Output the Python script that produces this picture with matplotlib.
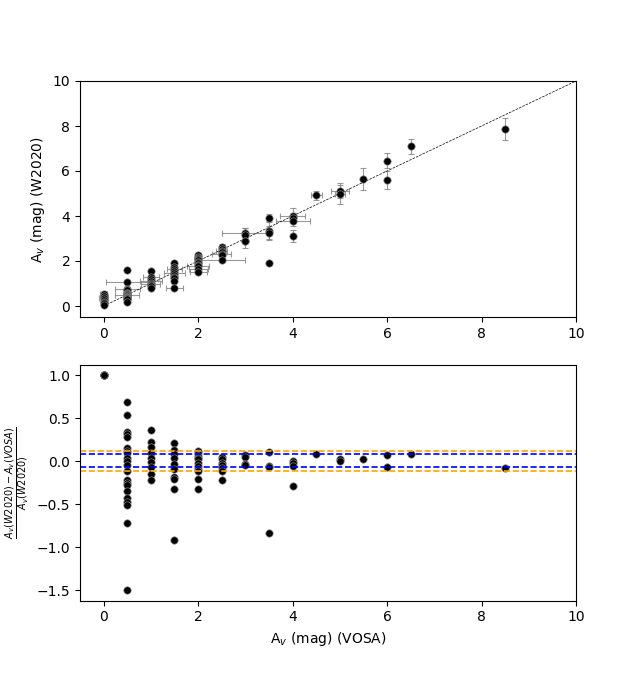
import numpy as np
import matplotlib.pyplot as plt

# A_v from VOSA (x) and from W2020 (y), with their errors
av_vosa = np.array(
    [0.0] * 7 + [0.5] * 21 + [1.0] * 9 + [1.5] * 10 + [2.0] * 11 + [2.5] * 7
    + [3.0] * 4 + [3.5] * 4 + [4.0] * 4 + [4.5] + [5.0] * 2 + [5.5] + [6.0] * 2
    + [6.5] + [8.5]
)
av_w2020 = np.array([
    0.55, 0.45, 0.35, 0.28, 0.20, 0.12, 0.05,
    1.59, 1.07, 0.76, 0.73, 0.70, 0.59, 0.57, 0.55, 0.52, 0.50, 0.48,
    0.45, 0.41, 0.40, 0.39, 0.37, 0.35, 0.34, 0.33, 0.29, 0.20,
    1.56, 1.29, 1.20, 1.11, 1.04, 0.99, 0.94, 0.87, 0.82,
    1.89, 1.72, 1.64, 1.56, 1.46, 1.38, 1.27, 1.24, 1.13, 0.78,
    2.27, 2.20, 2.14, 2.08, 2.04, 1.96, 1.89, 1.84, 1.79, 1.66, 1.51,
    2.63, 2.55, 2.45, 2.38, 2.32, 2.25, 2.05,
    3.25, 3.15, 2.90, 2.88,
    3.93, 3.33, 3.26, 1.91,
    4.02, 3.92, 3.77, 3.11,
    4.93,
    5.10, 5.00,
    5.65,
    6.45, 5.60,
    7.10,
    7.86,
])
xerr = np.array([
    0.08, 0.0, 0.10, 0.0, 0.05, 0.0, 0.0,
    0.0, 0.46, 0.26, 0.0, 0.0, 0.0, 0.0, 0.0, 0.0, 0.0, 0.25,
    0.0, 0.0, 0.0, 0.0, 0.0, 0.0, 0.0, 0.0, 0.0, 0.0,
    0.0, 0.17, 0.0, 0.23, 0.0, 0.20, 0.0, 0.0, 0.0,
    0.0, 0.0, 0.15, 0.0, 0.22, 0.0, 0.0, 0.0, 0.0, 0.18,
    0.0, 0.0, 0.0, 0.0, 0.0, 0.0, 0.0, 0.0, 0.23, 0.20, 0.18,
    0.0, 0.0, 0.12, 0.0, 0.20, 0.0, 0.50,
    0.50, 0.0, 0.0, 0.0,
    0.05, 0.05, 0.0, 0.0,
    0.27, 0.0, 0.36, 0.0,
    0.12,
    0.19, 0.10,
    0.0,
    0.0, 0.0,
    0.0,
    0.0,
])
yerr = np.array([
    0.10, 0.08, 0.10, 0.05, 0.08, 0.05, 0.05,
    0.05, 0.10, 0.08, 0.05, 0.05, 0.05, 0.05, 0.05, 0.05, 0.05, 0.05,
    0.05, 0.05, 0.05, 0.05, 0.05, 0.05, 0.05, 0.05, 0.05, 0.05,
    0.08, 0.08, 0.08, 0.08, 0.08, 0.08, 0.08, 0.08, 0.08,
    0.10, 0.08, 0.08, 0.08, 0.08, 0.08, 0.08, 0.08, 0.08, 0.08,
    0.10, 0.10, 0.10, 0.10, 0.10, 0.10, 0.10, 0.10, 0.10, 0.10, 0.10,
    0.12, 0.10, 0.10, 0.10, 0.10, 0.10, 0.10,
    0.20, 0.30, 0.30, 0.10,
    0.15, 0.40, 0.30, 0.05,
    0.35, 0.20, 0.20, 0.25,
    0.20,
    0.30, 0.45,
    0.48,
    0.33, 0.40,
    0.33,
    0.50,
])

# reference lines in the residual panel
blue_lines = [0.078, -0.066]
orange_lines = [0.12, -0.115]

resid = (av_w2020 - av_vosa) / av_w2020

fig, (ax1, ax2) = plt.subplots(2, 1, figsize=(6.4, 6.75))

ax1.plot([0, 10], [0, 10], 'k--', lw=0.5)
ax1.errorbar(av_vosa, av_w2020, xerr=xerr, yerr=yerr, fmt='none', ecolor='grey',
             elinewidth=0.8, capsize=2, capthick=0.8, alpha=0.8, zorder=1)
ax1.scatter(av_vosa, av_w2020, s=28, c='k', edgecolors='grey', linewidths=0.5, zorder=2)
ax1.set_xlim(-0.5, 10)
ax1.set_ylim(-0.5, 10)
ax1.set_ylabel('A$_v$ (mag) (W2020)')

ax2.scatter(av_vosa, resid, s=28, c='k', edgecolors='grey', linewidths=0.5, zorder=2)
for y in blue_lines:
    ax2.axhline(y, color='blue', ls='--', lw=1.2)
for y in orange_lines:
    ax2.axhline(y, color='orange', ls='--', lw=1.2)
ax2.set_xlim(-0.5, 10)
ax2.set_xlabel('A$_v$ (mag) (VOSA)')
ax2.set_ylabel(r'$\frac{A_v(W2020) - A_v(VOSA)}{A_v(W2020)}$')

plt.savefig('out.png')
